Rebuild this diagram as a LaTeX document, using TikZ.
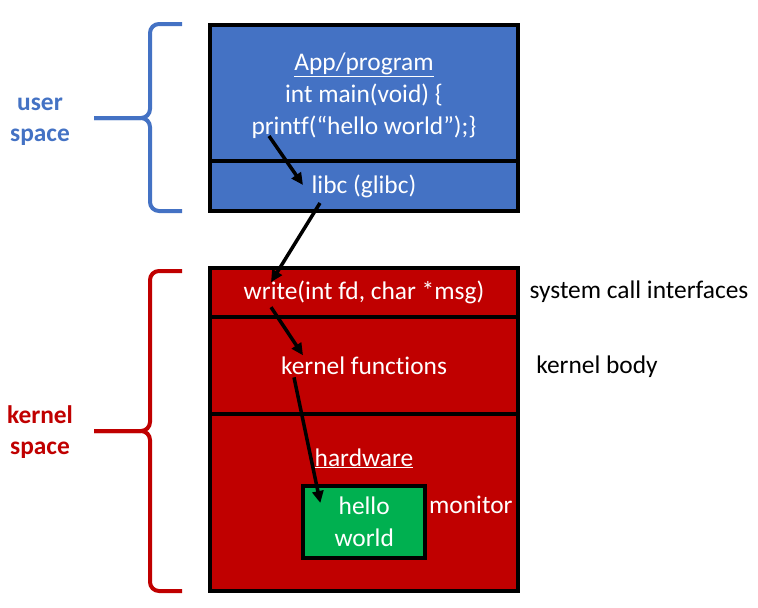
\documentclass[tikz,border=0pt]{standalone}
\usepackage{fontspec}
\setmainfont{Carlito}[Ligatures=NoCommon]
\usetikzlibrary{positioning,arrows.meta}
\definecolor{userblue}{HTML}{4472C4}
\definecolor{kernred}{HTML}{C00000}
\definecolor{hwgreen}{HTML}{00B050}
\tikzstyle{layer} = [draw, line width=4pt, rectangle, minimum width=308pt, inner sep=0pt, outer sep=0pt, text=white, align=center]
\tikzstyle{brace} = [line width=4pt, rounded corners=9pt]
\tikzstyle{flow} = [->, line width=3.5pt]
\tikzstyle{side} = [font={\fontsize{25.4pt}{31pt}\selectfont\bfseries}, align=center]

\begin{document}
\begin{tikzpicture}[x=1pt, y=-1pt, >={Triangle[length=12pt, width=11pt]}]
    \tikzset{font={\fontsize{25.4pt}{32pt}\selectfont}}
    \useasboundingbox (0,0) rectangle (758,608);
    % user space
    \node [layer, fill=userblue, minimum height=136.5pt] (app) at (364,92.75) {};
    \node [text=white, align=center] (apptxt) at (364,95.5) {\underline{App/program}\\ int main(void) \{\\ printf(“hello world”);\}};
    \node [layer, fill=userblue, minimum height=50pt, below=0pt of app] (libc) {libc (glibc)};
    % kernel space
    \node [layer, fill=kernred, minimum height=49pt] (write) at (364,292.2) {write(int fd, char *msg)};
    \node [layer, fill=kernred, minimum height=97.3pt, below=0pt of write] (kfun) {kernel functions};
    \node [layer, fill=kernred, minimum height=176.7pt, below=0pt of kfun] (hw) {};
    \node [text=white, anchor=base] (hwlbl) at (364,466) {\underline{hardware}};
    \node [layer, fill=hwgreen, minimum width=121.7pt, minimum height=72pt] (screen) at (364.2,522) {hello\\ world};
    \node [text=white, anchor=base west, inner sep=2pt] (mon) at (427,513) {monitor};
    % right hand notes
    \node [anchor=base] (sci) at (639,298) {system call interfaces};
    \node [anchor=base] (kbody) at (597,373) {kernel body};
    % braces
    \draw [brace, userblue] (182,24) -- (150,24) -- (150,118) -- (94,118);
    \draw [brace, userblue] (182,211) -- (150,211) -- (150,118) -- (94,118);
    \node [side, text=userblue] (ulbl) at (40,122) {user\\ space};
    \draw [brace, kernred] (182,271) -- (150,271) -- (150,431) -- (94,431);
    \draw [brace, kernred] (182,591) -- (150,591) -- (150,431) -- (94,431);
    \node [side, text=kernred] (klbl) at (40,432.5) {kernel\\ space};
    % call path
    \draw [flow] ([shift={(59,-25)}]app.south west) -- ([shift={(93,-1)}]libc.west);
    \draw [flow] ([shift={(110,17)}]libc.west) -- ([shift={(61,-10)}]write.west);
    \draw [flow] ([shift={(61,15)}]write.west) -- ([shift={(93,-10)}]kfun.west);
    \draw [flow] ([shift={(84,12)}]kfun.west) -- ([shift={(17,17)}]screen.north west);
\end{tikzpicture}
\end{document}
